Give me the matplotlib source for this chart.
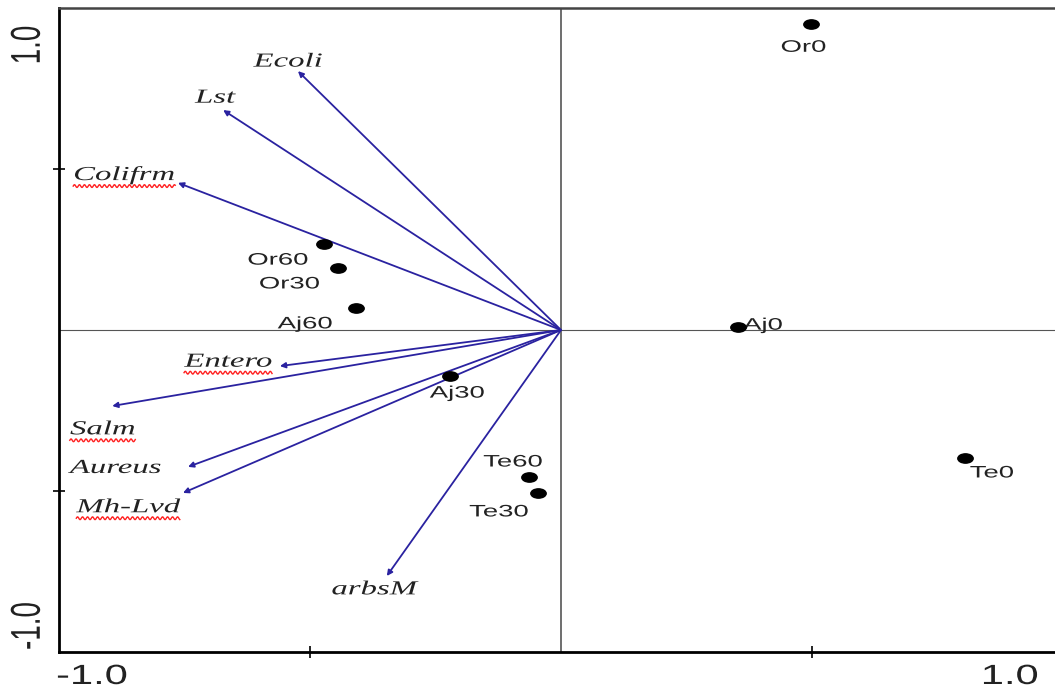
import numpy as np
import matplotlib
matplotlib.use("Agg")
import matplotlib.pyplot as plt
from matplotlib.lines import Line2D
from matplotlib.patheffects import AbstractPathEffect
from matplotlib.transforms import Affine2D
from matplotlib.markers import MarkerStyle

# sample scores
samples = ["Or0", "Aj0", "Te0", "Or60", "Or30", "Aj60", "Aj30", "Te60", "Te30"]
sx = [0.498, 0.353, 0.805, -0.472, -0.444, -0.408, -0.221, -0.064, -0.046]
sy = [0.950, 0.009, -0.398, 0.267, 0.193, 0.068, -0.143, -0.457, -0.506]
# sample label positions (text centers)
slx = [0.483, 0.402, 0.858, -0.564, -0.541, -0.510, -0.207, -0.096, -0.124]
sly = [0.878, 0.015, -0.444, 0.217, 0.143, 0.019, -0.196, -0.410, -0.565]

# variable arrows
variables = ["Ecoli", "Lst", "Colifrm", "Entero", "Salm", "Aureus", "Mh-Lvd", "arbsM"]
vx = [-0.524, -0.673, -0.763, -0.560, -0.894, -0.743, -0.753, -0.347]
vy = [0.804, 0.683, 0.457, -0.112, -0.236, -0.425, -0.506, -0.764]
vlx = [-0.544, -0.689, -0.870, -0.663, -0.913, -0.888, -0.862, -0.371]
vly = [0.832, 0.720, 0.481, -0.100, -0.310, -0.430, -0.552, -0.807]
squiggly = ["Colifrm", "Entero", "Salm", "Mh-Lvd"]

STRETCH = 1.65


class XStretch(AbstractPathEffect):
    """Stretch rendered text horizontally about its centre."""

    def __init__(self, sx):
        super().__init__()
        self.sx = sx

    def draw_path(self, renderer, gc, tpath, affine, rgbFace=None):
        ext = tpath.get_extents(affine)
        cx = (ext.x0 + ext.x1) / 2
        aff = affine + Affine2D().translate(-cx, 0).scale(self.sx, 1).translate(cx, 0)
        renderer.draw_path(gc, tpath, aff, rgbFace)


W, H = 1055, 691
fig = plt.figure(figsize=(W / 100, H / 100), dpi=100)
ax = fig.add_axes([59 / W, 39 / H, 1 - 59 / W, (652 - 8) / H])
ax.set_xlim(-1.0, 0.984)
ax.set_ylim(-1.0, 1.0)

ax.axhline(0, color="#555555", lw=0.8, zorder=1)
ax.axvline(0, color="#555555", lw=1.2, zorder=1)

arrow_col = "#2a22a0"
for x, y in zip(vx, vy):
    ax.annotate("", xy=(x, y), xytext=(0, 0),
                arrowprops=dict(arrowstyle="-|>", color=arrow_col, lw=1.3,
                                mutation_scale=8, shrinkA=0, shrinkB=0),
                zorder=3)

pe = [XStretch(STRETCH)]
var_texts = []
for name, x, y in zip(variables, vlx, vly):
    t = ax.text(x, y, name, ha="center", va="center", fontsize=14.3,
                family="Liberation Serif", style="italic", color="#222222",
                path_effects=pe)
    var_texts.append((name, t))

dot = MarkerStyle("o", transform=Affine2D().scale(STRETCH, 1.0))
ax.scatter(sx, sy, s=45, marker=dot, color="black", zorder=4)
for name, x, y in zip(samples, slx, sly):
    ax.text(x, y, name, ha="center", va="center", fontsize=12,
            family="Liberation Sans", color="#222222", path_effects=pe)

for s in ["left", "bottom"]:
    ax.spines[s].set_linewidth(2)
    ax.spines[s].set_color("black")
ax.spines["top"].set_linewidth(1.8)
ax.spines["top"].set_color("#444444")
ax.spines["right"].set_visible(False)

ax.set_xticks([-0.5, 0.5])
ax.set_yticks([-0.5, 0.5])
ax.tick_params(direction="inout", length=8, width=1.2, labelbottom=False,
               labelleft=False)

# axis end labels
lab_kw = dict(fontsize=20, family="Liberation Sans", color="#222222",
              path_effects=[XStretch(1.5)])
fig.text(92 / W, 1 - 677 / H, "-1.0", ha="center", va="center", **lab_kw)
fig.text(1010 / W, 1 - 677 / H, "1.0", ha="center", va="center", **lab_kw)
fig.text(28 / W, 1 - 45 / H, "1.0", ha="center", va="center", rotation=90, **lab_kw)
fig.text(28 / W, 1 - 626 / H, "-1.0", ha="center", va="center", rotation=90, **lab_kw)

# red spell-check squiggles under some names
fig.canvas.draw()
r = fig.canvas.get_renderer()
for name, t in var_texts:
    if name in squiggly:
        bb = t.get_window_extent(r)
        cx = (bb.x0 + bb.x1) / 2
        half = bb.width * STRETCH / 2
        xs = np.arange(cx - half, cx + half, 0.5)
        ys = bb.y0 - 1 + 1.4 * np.sin((xs - xs[0]) / 5.0 * 2 * np.pi)
        fig.add_artist(Line2D(xs / W, ys / H, transform=fig.transFigure,
                              color="#ff2020", lw=1.0))

fig.savefig("out.png", dpi=100)
